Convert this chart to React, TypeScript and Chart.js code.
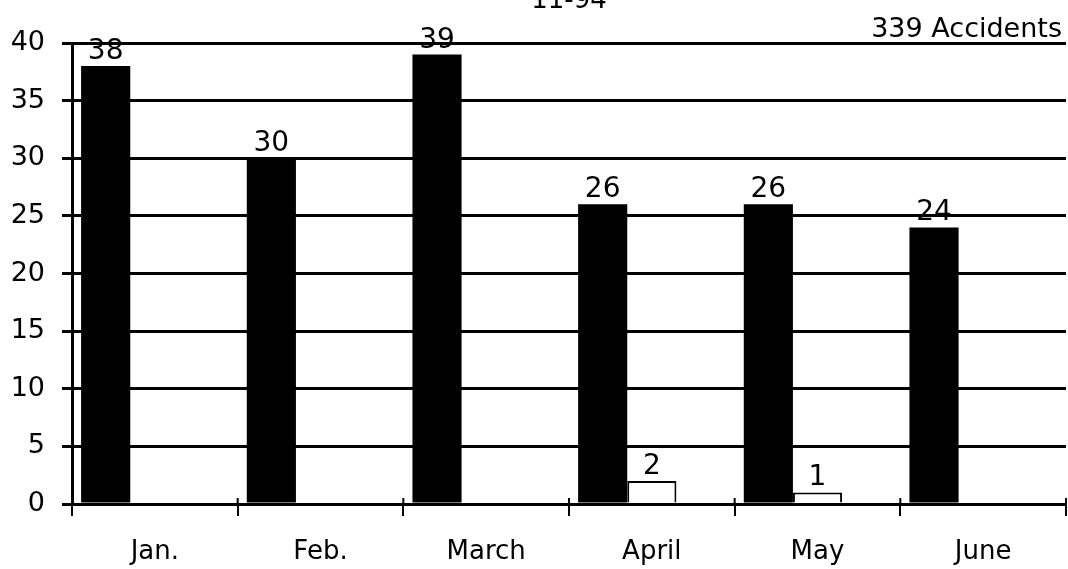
import React, { useEffect, useRef } from "react";
import { Chart, registerables } from "chart.js";

Chart.register(...registerables);

const categories = ["Jan.", "Feb.", "March", "April", "May", "June"];
const accidentsA = [38, 30, 39, 26, 26, 24];
const accidentsB = [0, 0, 0, 2, 1, 0];
const spacer = [null, null, null, null, null, null];
const yMin = 0;
const yMax = 40;
const yStep = 5;
const titleText = "11-94";
const totalText = "339 Accidents";

const FONT = "'DejaVu Sans', Verdana, sans-serif";

const textPlugin = {
  id: "texts",
  afterDatasetsDraw(chart: any) {
    const { ctx, chartArea } = chart;
    ctx.save();
    // small tick marks above the x axis at category boundaries
    ctx.strokeStyle = "#000";
    ctx.lineWidth = 2;
    const n = categories.length;
    for (let i = 0; i <= n; i++) {
      const x = chartArea.left + (i * (chartArea.right - chartArea.left)) / n;
      ctx.beginPath();
      ctx.moveTo(x, chartArea.bottom - 6);
      ctx.lineTo(x, chartArea.bottom);
      ctx.stroke();
    }
    ctx.fillStyle = "#000";
    ctx.textBaseline = "alphabetic";
    // title (partly cut off at top edge)
    ctx.font = `26px ${FONT}`;
    ctx.textAlign = "center";
    ctx.fillText(titleText, (chartArea.left + chartArea.right) / 2, 8);
    // total
    ctx.font = `27px ${FONT}`;
    ctx.textAlign = "right";
    ctx.fillText(totalText, chartArea.right - 4, 37);
    // value labels
    ctx.font = `28px ${FONT}`;
    ctx.textAlign = "center";
    [0, 1].forEach((di) => {
      const meta = chart.getDatasetMeta(di);
      const data = chart.data.datasets[di].data as number[];
      meta.data.forEach((bar: any, i: number) => {
        const v = data[i];
        if (!v) return;
        ctx.fillText(String(v), bar.x, bar.y - 7);
      });
    });
    ctx.restore();
  },
};

export default function App() {
  const ref = useRef<HTMLCanvasElement | null>(null);
  useEffect(() => {
    if (!ref.current) return;
    const chart = new Chart(ref.current, {
      type: "bar",
      data: {
        labels: categories,
        datasets: [
          {
            label: "A",
            data: accidentsA,
            backgroundColor: "#000",
            borderWidth: 0,
          },
          {
            label: "B",
            data: accidentsB,
            backgroundColor: "#fff",
            borderColor: "#000",
            borderWidth: 2,
          },
          {
            label: "",
            data: spacer as any,
            backgroundColor: "rgba(0,0,0,0)",
          },
        ],
      },
      options: {
        animation: false,
        responsive: false,
        maintainAspectRatio: false,
        events: [],
        datasets: {
          bar: { categoryPercentage: 0.89, barPercentage: 1 },
        },
        layout: { padding: { top: 43, left: 0, right: 2, bottom: 0 } },
        plugins: {
          legend: { display: false },
          tooltip: { enabled: false },
          title: { display: false },
        },
        scales: {
          x: {
            afterFit: (s: any) => {
              s.height = 65;
            },
            grid: {
              display: true,
              drawOnChartArea: false,
              drawTicks: true,
              tickLength: 12,
              color: "#000",
              lineWidth: 2,
              offset: true,
            },
            border: { display: true, color: "#000", width: 3 },
            ticks: {
              color: "#000",
              font: { family: FONT, size: 26 },
              padding: 21,
              maxRotation: 0,
              autoSkip: false,
            },
          },
          y: {
            min: yMin,
            max: yMax,
            afterFit: (s: any) => {
              s.width = 72;
            },
            grid: {
              color: "#000",
              lineWidth: 3,
              drawTicks: true,
              tickLength: 10,
            },
            border: { display: true, color: "#000", width: 3 },
            ticks: {
              stepSize: yStep,
              color: "#000",
              font: { family: FONT, size: 27 },
              padding: 17,
            },
          },
        },
      },
      plugins: [textPlugin],
    });
    return () => chart.destroy();
  }, []);
  return (
    <div
      style={{
        position: "fixed",
        left: 0,
        top: 0,
        width: 1068,
        height: 569,
        overflow: "hidden",
        background: "#fff",
      }}
    >
      <canvas ref={ref} width={1068} height={569} style={{ display: "block" }} />
    </div>
  );
}
